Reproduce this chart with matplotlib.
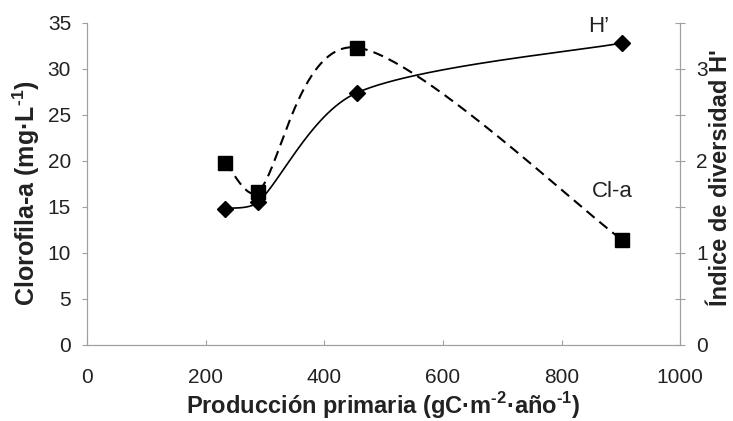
import matplotlib.pyplot as plt
import numpy as np

plt.rcParams['font.family'] = ['Liberation Sans', 'DejaVu Sans']
plt.rcParams['mathtext.fontset'] = 'custom'
plt.rcParams['mathtext.rm'] = 'Liberation Sans:bold'
plt.rcParams['mathtext.bf'] = 'Liberation Sans:bold'

produccion = [233, 288, 455, 902]
clorofila = [19.8, 16.6, 32.3, 11.4]
diversidad = [1.48, 1.55, 2.74, 3.28]


def suavizar(ax, x, y, n=60):
    # suavizado tipo Excel (bezier, brazo = 1/6 de la tangente, limitado por el tramo)
    pts = ax.transData.transform(np.column_stack([x, y]))
    m = len(pts)
    t = np.linspace(0, 1, n)[:, None]
    out = []
    for i in range(m - 1):
        p0, p3 = pts[i], pts[i + 1]
        d = np.linalg.norm(p3 - p0)
        ta = pts[min(i + 1, m - 1)] - pts[max(i - 1, 0)]
        tb = pts[min(i + 2, m - 1)] - pts[i]
        la = min(np.linalg.norm(ta) / 6, d / 3)
        lb = min(np.linalg.norm(tb) / 6, d / 3)
        p1 = p0 + ta / np.linalg.norm(ta) * la
        p2 = p3 - tb / np.linalg.norm(tb) * lb
        b = (1 - t) ** 3 * p0 + 3 * (1 - t) ** 2 * t * p1 + 3 * (1 - t) * t ** 2 * p2 + t ** 3 * p3
        out.append(b)
    out = ax.transData.inverted().transform(np.vstack(out))
    return out[:, 0], out[:, 1]


fig = plt.figure(figsize=(7.33, 4.21), dpi=100)
ax1 = fig.add_axes([0.119, 0.181, 0.809, 0.765])
ax2 = ax1.twinx()

ax1.set_xlim(0, 1000)
ax1.set_ylim(0, 35)
ax2.set_ylim(0, 3.5)

gris = '#a0a0a0'

cx, cy = suavizar(ax1, produccion, clorofila)
ax1.plot(cx, cy, color='black', lw=1.5, dashes=(5, 3))
ax1.plot(produccion, clorofila, 's', color='black', ms=10.5)

hx, hy = suavizar(ax2, produccion, diversidad)
ax2.plot(hx, hy, color='black', lw=1.2)
ax2.plot(produccion, diversidad, 'D', color='black', ms=8)

ax1.set_xticks(range(0, 1001, 200))
ax1.set_yticks(range(0, 36, 5))
ax2.set_yticks(np.arange(0, 3.6, 0.5))
ax2.set_yticklabels(['0', '', '1', '', '2', '', '3', ''])

for ax in (ax1, ax2):
    ax.spines['top'].set_visible(False)
    for s in ('left', 'right', 'bottom'):
        ax.spines[s].set_color(gris)
    ax.tick_params(labelsize=15, color=gris, labelcolor='#222222')

ax1.tick_params(axis='x', direction='in', length=3.6, pad=17)
ax1.tick_params(axis='y', direction='out', length=3.6, pad=8)
ax2.tick_params(axis='y', direction='inout', length=7, pad=8)

ax1.set_xlabel('Producción primaria (gC·m$^{\\text{-2}}$·año$^{\\text{-1}}$)',
               fontsize=17, fontweight='bold', color='#222222')
ax1.set_ylabel('Clorofila-a (mg·L$^{\\text{-1}}$)', fontsize=18, fontweight='bold', color='#222222')
ax2.set_ylabel("Índice de diversidad H'", fontsize=17, fontweight='bold', color='#222222')
ax1.xaxis.set_label_coords(0.5, -0.142)
ax1.yaxis.set_label_coords(-0.076, 0.472)
ax2.yaxis.set_label_coords(1.049, 0.518)

ax1.text(862, 34.6, 'H’', fontsize=16, ha='center', va='center', color='#222222')
ax1.text(886, 16.7, 'Cl-a', fontsize=16, ha='center', va='center', color='#222222')

fig.savefig('out.png', dpi=100)
